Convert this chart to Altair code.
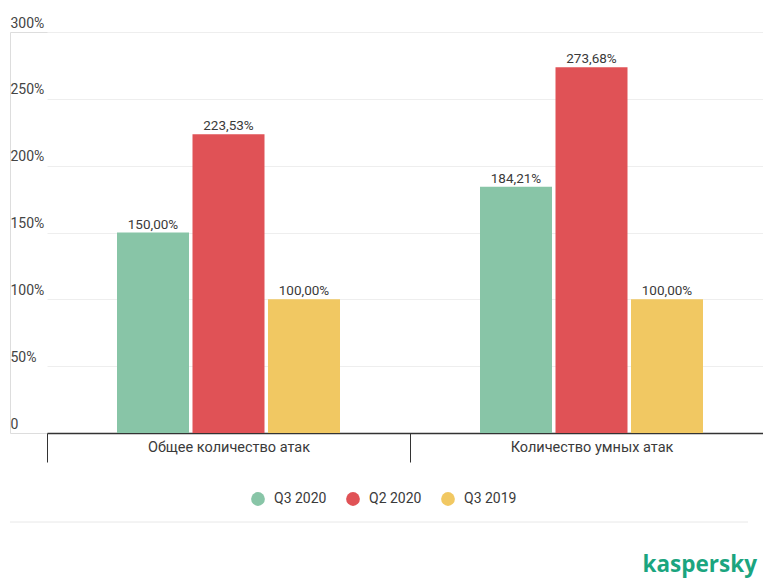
import altair as alt
import pandas as pd

categories = ["Общее количество атак", "Количество умных атак"]
series = ["Q3 2020", "Q2 2020", "Q3 2019"]
values_q3_2020 = [150.00, 184.21]
values_q2_2020 = [223.53, 273.68]
values_q3_2019 = [100.00, 100.00]
colors = ["#88c5a7", "#e05256", "#f1c862"]

rows = []
for s, vals in zip(series, [values_q3_2020, values_q2_2020, values_q3_2019]):
    for c, v in zip(categories, vals):
        rows.append({"category": c, "series": s, "value": v,
                     "label": f"{v:.2f}".replace(".", ",") + "%"})
df = pd.DataFrame(rows)

W = 753
H = 401
FONT = "Roboto"
TXT = "#3a3a3a"

x_enc = alt.X("category:N", sort=categories,
              scale=alt.Scale(range=[37, 763], paddingInner=0, paddingOuter=0),
              axis=alt.Axis(title=None, domain=True, domainColor="#333333", domainWidth=1.5,
                            ticks=True, tickBand="extent", tickSize=29, tickColor="#333333",
                            tickWidth=1, labelPadding=-22, labelBaseline="top",
                            labelFont=FONT, labelFontSize=14.5, labelColor=TXT,
                            grid=False, labelAngle=0))
xoff = alt.XOffset("series:N", sort=series,
                   scale=alt.Scale(paddingInner=0.046, paddingOuter=0.927))

y_enc = alt.Y("value:Q", scale=alt.Scale(domain=[0, 300], nice=False),
              axis=alt.Axis(title=None, values=[0, 50, 100, 150, 200, 250, 300],
                            domain=False, ticks=False, tickSize=0, labelPadding=0,
                            labelAlign="left", labelBaseline="alphabetic", labelOffset=-5,
                            labelExpr="datum.value == 0 ? '0' : datum.value + '%'",
                            labelFont=FONT, labelFontSize=14, labelColor="#444444",
                            labelOverlap=False, labelBound=False, labelFlush=False,
                            grid=True, gridColor="#eeeeee", gridWidth=1))

color_enc = alt.Color("series:N", sort=series,
                      scale=alt.Scale(domain=series, range=colors),
                      legend=alt.Legend(title=None, orient="none", direction="horizontal",
                                        legendX=241, legendY=460, symbolType="circle",
                                        symbolSize=190, symbolStrokeWidth=0,
                                        labelFont=FONT, labelFontSize=14, labelColor=TXT,
                                        labelOffset=9, columnPadding=19))

bars = alt.Chart(df).mark_bar(size=72).encode(x=x_enc, xOffset=xoff, y=y_enc, color=color_enc)

texts = alt.Chart(df).mark_text(baseline="alphabetic", dy=-4, font=FONT, fontSize=13.5,
                                color=TXT).encode(
    x=alt.X("category:N", sort=categories), xOffset=alt.XOffset("series:N", sort=series),
    y="value:Q", text="label:N")

sep = alt.Chart(alt.Data(values=[{}])).mark_rule(color="#e8e8e8", strokeWidth=1).encode(
    x=alt.value(0), x2=alt.value(738), y=alt.value(490))

logo = alt.Chart(alt.Data(values=[{}])).mark_text(
    text="kaspersky", align="right", baseline="alphabetic", font="Open Sans",
    fontSize=22.5, fontWeight="bold", color="#1ba57f").encode(
    x=alt.value(747), y=alt.value(540))

chart = alt.layer(bars, texts, sep, logo).properties(
    width=W, height=H,
    autosize=alt.AutoSizeParams(type="none"),
    padding={"left": 10, "top": 32, "right": 0, "bottom": 145},
).configure_view(stroke=None).configure(background="white")

chart.save("out.html", embed_options={"renderer": "svg", "actions": False})
